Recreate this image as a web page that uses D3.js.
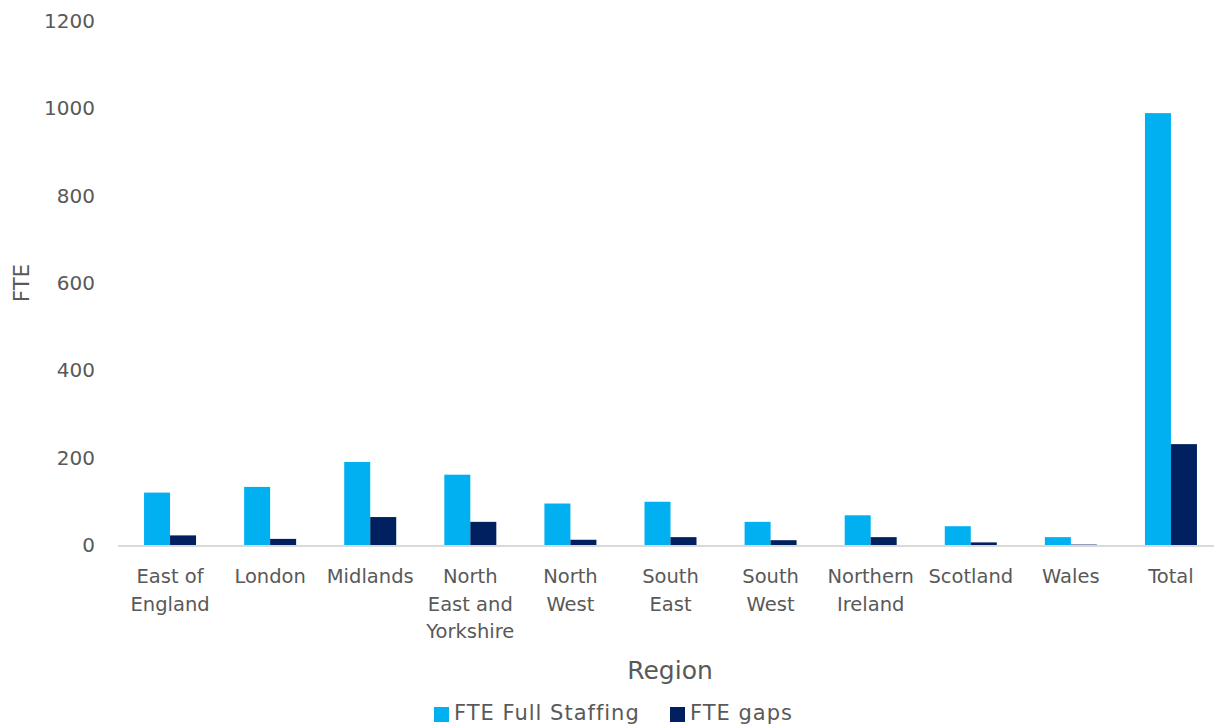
<!DOCTYPE html>
<html><head><meta charset="utf-8">
<script src="https://cdn.jsdelivr.net/npm/d3@7"></script>
<style>body{margin:0;background:#fff}svg{display:block}text{font-family:"DejaVu Sans",sans-serif;fill:#595959}</style>
</head><body><svg id="c" width="1214" height="726"></svg>
<script>
const categories = [["East of","England"],["London"],["Midlands"],["North","East and","Yorkshire"],["North","West"],["South","East"],["South","West"],["Northern","Ireland"],["Scotland"],["Wales"],["Total"]];
const fullStaffing = [120,133,190,161,95,99,53,68,43,18,989];
const gaps = [22,14,64,53,12,18,11,18,6,1,231];
const yTicks = [0,200,400,600,800,1000,1200];
const seriesNames = ["FTE Full Staffing","FTE gaps"];
const colors = ["#00B0F0","#002060"];

const svg = d3.select("#c");
const keys = categories.map((c,i)=>i);
const x = d3.scaleBand().domain(keys).range([120,1221]).paddingInner(0).paddingOuter(0);
const x1 = d3.scaleBand().domain([0,1]).range([x.bandwidth()/2-26, x.bandwidth()/2+26]);
const y = d3.scaleLinear().domain([0,1200]).range([545,21]);

// y tick labels
svg.append("g").selectAll("text").data(yTicks).join("text")
  .attr("x",95).attr("y",d=>y(d)).attr("dy","0.35em").attr("text-anchor","end")
  .style("font-size","20px").text(d=>d);

// bars
const g = svg.append("g");
const series = [fullStaffing,gaps];
series.forEach((vals,si)=>{
  g.selectAll(null).data(vals).join("rect")
    .attr("x",(d,i)=>x(i)+x1(si)).attr("width",x1.bandwidth())
    .attr("y",d=>y(d)).attr("height",d=>y(0)-y(d)).attr("fill",colors[si]);
});

// axis line
svg.append("line").attr("x1",118).attr("x2",1214).attr("y1",546).attr("y2",546)
  .attr("stroke","#D9D9D9").attr("stroke-width",2);

// category labels
const lab = svg.append("g").selectAll("text").data(categories).join("text")
  .attr("x",(d,i)=>x(i)+x.bandwidth()/2).attr("y",583).attr("text-anchor","middle")
  .style("font-size","19.5px");
lab.selectAll("tspan").data(d=>d).join("tspan")
  .attr("x",function(){return this.parentNode.getAttribute("x");})
  .attr("dy",(d,i)=>i===0?0:"27.5px").text(d=>d);

// axis titles
svg.append("text").attr("x",670).attr("y",679).attr("text-anchor","middle").style("font-size","25px").text("Region");
svg.append("text").attr("transform","translate(29,283) rotate(-90)").attr("text-anchor","middle").style("font-size","21px").text("FTE");

// legend
const leg = svg.append("g");
const lx = [434,670];
seriesNames.forEach((n,i)=>{
  leg.append("rect").attr("x",lx[i]).attr("y",707).attr("width",15).attr("height",15).attr("fill",colors[i]);
  leg.append("text").attr("x",lx[i]+20).attr("y",713).attr("dy","0.35em").style("font-size","21px")
    .style("letter-spacing","1px").text(n);
});
</script></body></html>
